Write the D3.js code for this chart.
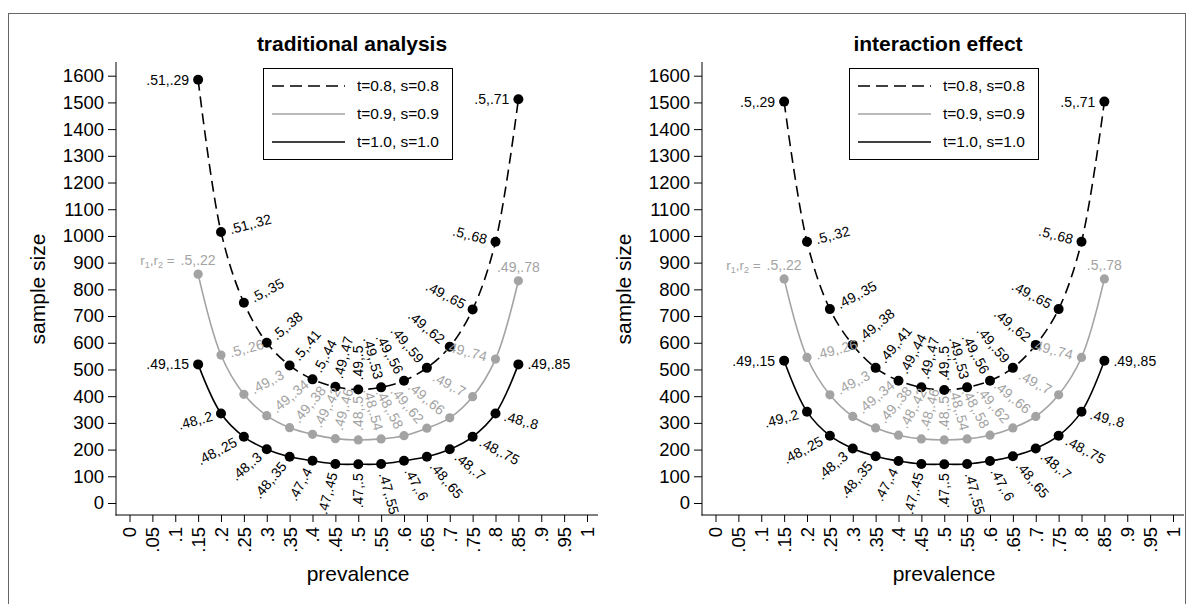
<!DOCTYPE html>
<html>
<head>
<meta charset="utf-8">
<script src="https://cdn.jsdelivr.net/npm/d3@7/dist/d3.min.js"></script>
<style>
  body { margin: 0; background: #fff; }
  svg { display: block; font-family: "Liberation Sans", Arial, sans-serif; }
</style>
</head>
<body>
<script>
// prevalence values where the sample size was computed
const prevalence = [0.15, 0.2, 0.25, 0.3, 0.35, 0.4, 0.45, 0.5, 0.55, 0.6, 0.65, 0.7, 0.75, 0.8, 0.85];

// traditional analysis
const tradT08 = [1585, 1015, 750, 600, 515, 463, 435, 425, 433, 458, 506, 585, 725, 978, 1512];
const tradT09 = [857, 554, 407, 327, 282, 257, 241, 236, 240, 252, 280, 319, 398, 539, 832];
const tradT10 = [519, 335, 248, 201, 173, 158, 146, 145, 146, 158, 173, 201, 248, 335, 519];
const tradLab08 = [".51,.29", ".51,.32", ".5,.35", ".5,.38", ".5,.41", ".5,.44", ".49,.47", ".49,.5", ".49,.53", ".49,.56", ".49,.59", ".49,.62", ".49,.65", ".5,.68", ".5,.71"];
const tradLab09 = [".5,.22", ".5,.26", ".49,.3", ".49,.34", ".49,.38", ".49,.42", ".49,.46", ".48,.5", ".48,.54", ".48,.58", ".49,.62", ".49,.66", ".49,.7", ".49,.74", ".49,.78"];
const tradLab10 = [".49,.15", ".48,.2", ".48,.25", ".48,.3", ".48,.35", ".47,.4", ".47,.45", ".47,.5", ".47,.55", ".47,.6", ".48,.65", ".48,.7", ".48,.75", ".48,.8", ".49,.85"];

// interaction effect
const interT08 = [1503, 978, 726, 592, 506, 458, 433, 423, 433, 458, 506, 592, 726, 978, 1503];
const interT09 = [839, 545, 405, 324, 281, 254, 240, 236, 240, 254, 281, 324, 405, 545, 839];
const interT10 = [533, 342, 252, 204, 175, 157, 146, 145, 146, 157, 175, 204, 252, 342, 533];
const interLab08 = [".5,.29", ".5,.32", ".49,.35", ".49,.38", ".49,.41", ".49,.44", ".49,.47", ".49,.5", ".49,.53", ".49,.56", ".49,.59", ".49,.62", ".49,.65", ".5,.68", ".5,.71"];
const interLab09 = [".5,.22", ".49,.26", ".49,.3", ".49,.34", ".49,.38", ".48,.42", ".48,.46", ".48,.5", ".48,.54", ".48,.58", ".49,.62", ".49,.66", ".49,.7", ".49,.74", ".5,.78"];
const interLab10 = [".49,.15", ".49,.2", ".48,.25", ".48,.3", ".48,.35", ".47,.4", ".47,.45", ".47,.5", ".47,.55", ".47,.6", ".48,.65", ".48,.7", ".48,.75", ".49,.8", ".49,.85"];

const legendLabels = ["t=0.8, s=0.8", "t=0.9, s=0.9", "t=1.0, s=1.0"];
const yTicks = [0, 100, 200, 300, 400, 500, 600, 700, 800, 900, 1000, 1100, 1200, 1300, 1400, 1500, 1600];
const xTicks = [0, 0.05, 0.1, 0.15, 0.2, 0.25, 0.3, 0.35, 0.4, 0.45, 0.5, 0.55, 0.6, 0.65, 0.7, 0.75, 0.8, 0.85, 0.9, 0.95, 1];
const xTickLabels = ["0", ".05", ".1", ".15", ".2", ".25", ".3", ".35", ".4", ".45", ".5", ".55", ".6", ".65", ".7", ".75", ".8", ".85", ".9", ".95", "1"];

// label tilt (degrees) per point, from the ends of the curve to the middle
const labelTilt = [0, 15, 28, 40, 50, 62, 75, 90, 75, 62, 50, 40, 28, 15, 0];

const GRAY = "#a3a3a3";

const svg = d3.select("body").append("svg").attr("width", 1192).attr("height", 604);

// outer frame
svg.append("rect")
  .attr("x", 8.5).attr("y", 13.5)
  .attr("width", 1177).attr("height", 620)
  .attr("fill", "none").attr("stroke", "#666");

const panels = [
  { title: "traditional analysis", ox: 0, t08: tradT08, t09: tradT09, t10: tradT10, l08: tradLab08, l09: tradLab09, l10: tradLab10 },
  { title: "interaction effect", ox: 586, t08: interT08, t09: interT09, t10: interT10, l08: interLab08, l09: interLab09, l10: interLab10 },
];

panels.forEach(drawPanel);

function drawPanel(p) {
  const g = svg.append("g").attr("transform", `translate(${p.ox},0)`);

  const x = d3.scaleLinear().domain([0, 1]).range([129.5, 587]);
  const y = d3.scaleLinear().domain([0, 1600]).range([503, 75.7]);

  // title
  g.append("text")
    .attr("x", 352).attr("y", 51)
    .attr("text-anchor", "middle")
    .attr("font-size", 21).attr("font-weight", "bold")
    .text(p.title);

  // axes
  const yAxis = g.append("g")
    .attr("transform", "translate(116,0)")
    .call(d3.axisLeft(y).tickValues(yTicks).tickSize(8).tickPadding(4).tickFormat(d3.format("d")));
  yAxis.select(".domain").remove();
  yAxis.selectAll("text").attr("font-size", 18.5).attr("fill", "#000").attr("font-family", null);
  yAxis.selectAll("line").attr("stroke", "#000");

  const xAxis = g.append("g")
    .attr("transform", "translate(0,515)")
    .call(d3.axisBottom(x).tickValues(xTicks).tickSize(7).tickFormat((d, i) => xTickLabels[i]));
  xAxis.select(".domain").remove();
  xAxis.selectAll("line").attr("stroke", "#000");
  xAxis.selectAll("text")
    .attr("font-size", 18.5).attr("fill", "#000").attr("font-family", null)
    .attr("transform", "rotate(-90)")
    .attr("text-anchor", "end")
    .attr("x", -12).attr("y", 0).attr("dy", "0.35em");

  g.append("line").attr("x1", 116).attr("x2", 116).attr("y1", 62).attr("y2", 515.5).attr("stroke", "#000");
  g.append("line").attr("x1", 115.5).attr("x2", 598).attr("y1", 515).attr("y2", 515).attr("stroke", "#000");

  g.append("text")
    .attr("transform", "translate(45,289) rotate(-90)")
    .attr("text-anchor", "middle").attr("font-size", 21)
    .text("sample size");
  g.append("text")
    .attr("x", 358).attr("y", 581)
    .attr("text-anchor", "middle").attr("font-size", 21)
    .text("prevalence");

  const line = d3.line()
    .x((d, i) => x(prevalence[i]))
    .y(d => y(d))
    .curve(d3.curveCatmullRom.alpha(0.5));

  const series = [
    { vals: p.t09, labs: p.l09, color: GRAY, dash: null, r: 4.6, side: "up", gray: true },
    { vals: p.t10, labs: p.l10, color: "#000", dash: null, r: 5, side: "down" },
    { vals: p.t08, labs: p.l08, color: "#000", dash: "11,6", r: 5, side: "up" },
  ];

  series.forEach(s => {
    g.append("path")
      .attr("d", line(s.vals))
      .attr("fill", "none")
      .attr("stroke", s.color)
      .attr("stroke-width", 1.6)
      .attr("stroke-dasharray", s.dash);
  });

  series.forEach(s => {
    g.append("g").selectAll("circle")
      .data(s.vals)
      .join("circle")
      .attr("cx", (d, i) => x(prevalence[i]))
      .attr("cy", d => y(d))
      .attr("r", s.r)
      .attr("fill", s.color);
  });

  series.forEach(s => {
    const lg = g.append("g").attr("font-size", 14).attr("fill", s.color);
    s.vals.forEach((v, i) => {
      const px = x(prevalence[i]), py = y(v);
      const n = s.vals.length;
      if (s.gray && (i === 0 || i === n - 1)) {
        const t = lg.append("text")
          .attr("x", px).attr("y", py - 9)
          .attr("text-anchor", "middle")
          .text(s.labs[i]);
        if (i === 0) {
          const half = t.node().getComputedTextLength() / 2;
          const pre = lg.append("text")
            .attr("x", px - half - 6).attr("y", py - 9)
            .attr("text-anchor", "end")
            .attr("font-size", 13.5);
          pre.append("tspan").text("r");
          pre.append("tspan").attr("font-size", 9).attr("dy", 3).text("1");
          pre.append("tspan").attr("dy", -3).text(",r");
          pre.append("tspan").attr("font-size", 9).attr("dy", 3).text("2");
          pre.append("tspan").attr("dy", -3).text(" =");
        }
        return;
      }
      const a = labelTilt[i] * Math.PI / 180;
      const mid = (n - 1) / 2;
      let ux, uy;
      if (s.side === "up") {
        if (i === 0) { ux = -1; uy = 0; }
        else if (i < mid) { ux = Math.cos(a); uy = -Math.sin(a); }
        else if (i === mid) { ux = 0; uy = -1; }
        else { ux = -Math.cos(a); uy = -Math.sin(a); }
      } else {
        if (i < mid) { ux = -Math.cos(a); uy = Math.sin(a); }
        else if (i === mid) { ux = 0; uy = 1; }
        else { ux = Math.cos(a); uy = Math.sin(a); }
      }
      const gap = 9;
      const ax = px + gap * ux, ay = py + gap * uy;
      let anchor, rot;
      if (ux > 1e-6 || (Math.abs(ux) <= 1e-6 && uy < 0)) {
        anchor = "start";
        rot = Math.atan2(uy, ux) * 180 / Math.PI;
      } else {
        anchor = "end";
        rot = Math.atan2(-uy, -ux) * 180 / Math.PI;
      }
      lg.append("text")
        .attr("transform", `translate(${ax},${ay}) rotate(${rot})`)
        .attr("text-anchor", anchor)
        .attr("dy", "0.35em")
        .text(s.labs[i]);
    });
  });

  // legend
  const leg = g.append("g").attr("transform", "translate(263,68)");
  leg.append("rect")
    .attr("x", 0.5).attr("y", 0.5)
    .attr("width", 189).attr("height", 91)
    .attr("fill", "#fff").attr("stroke", "#000");
  const legStyle = [
    { color: "#000", dash: "12,6" },
    { color: GRAY, dash: null },
    { color: "#000", dash: null },
  ];
  legendLabels.forEach((lab, i) => {
    const yy = 18 + i * 28;
    leg.append("line")
      .attr("x1", 9).attr("x2", 82)
      .attr("y1", yy).attr("y2", yy)
      .attr("stroke", legStyle[i].color)
      .attr("stroke-width", 1.6)
      .attr("stroke-dasharray", legStyle[i].dash);
    leg.append("text")
      .attr("x", 94).attr("y", yy)
      .attr("dy", "0.35em")
      .attr("font-size", 15.5)
      .text(lab);
  });
}
</script>
</body>
</html>
